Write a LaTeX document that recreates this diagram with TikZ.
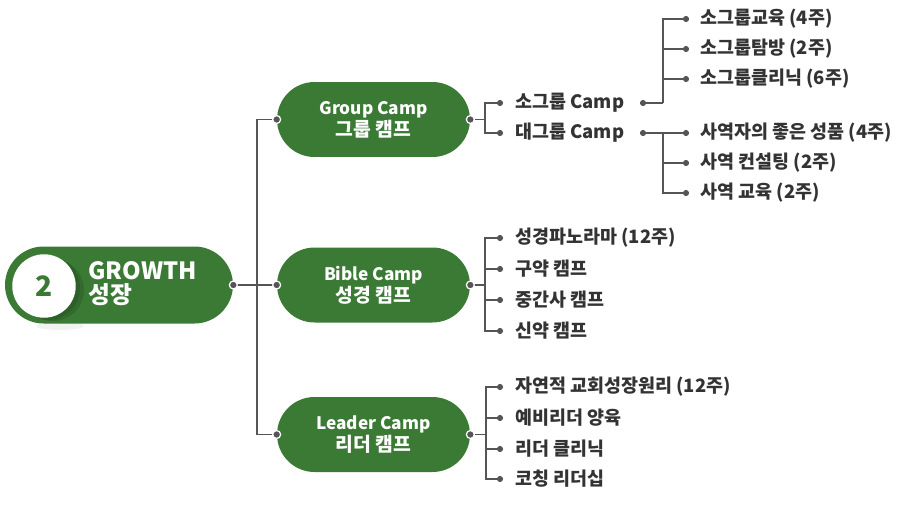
\documentclass[tikz,border=0pt]{standalone}
\usepackage{fontspec}
\setmainfont{Noto Sans CJK KR}
\usetikzlibrary{shapes.misc}

\definecolor{campgreen}{HTML}{3B7A35}
\definecolor{itemtext}{HTML}{333333}
\definecolor{linegray}{HTML}{555555}
\newcommand{\kline}[1]{{\fontsize{11}{12.5}\selectfont #1}}

\begin{document}
\begin{tikzpicture}[x=0.02cm,y=-0.02cm,
  pill/.style={rounded rectangle, fill=campgreen, text=white, align=center,
    font=\bfseries\fontsize{9.8}{12.5}\selectfont,
    minimum width=3.86cm, minimum height=1.5cm, inner sep=0pt},
  item/.style={anchor=west, text=itemtext, inner sep=0pt,
    font=\bfseries\fontsize{10.5}{12}\selectfont},
  dot/.style={circle, fill=linegray, inner sep=0pt, minimum size=3.5pt},
  enddot/.style={dot, draw=white, line width=0.7pt, minimum size=4.5pt},
  link/.style={draw=linegray, line width=0.6pt}]
  \useasboundingbox (0,0) rectangle (900,508);

  % main pill
  \fill[black, opacity=0.05] (60,326) ellipse (24 and 4);
  \node[pill, minimum width=4.56cm, minimum height=1.54cm] (N0) at (119,285) {};
  \fill[black, opacity=0.12] (53,290) circle (31);
  \fill[black, opacity=0.10] (48,288) circle (32);
  \node[circle, fill=white, minimum size=1.27cm, inner sep=0pt,
    text=campgreen, font=\bfseries\fontsize{16}{16}\selectfont] (N0c) at (44,286) {2};
  \node[anchor=west, text=white, align=left, inner sep=0pt,
    font=\bfseries\fontsize{13.5}{13.5}\selectfont] (N0t) at (88,284) {GROWTH\\성장};

  % camps
  \node[pill] (C1) at (373.5,119.5) {Group Camp\\\kline{그룹 캠프}};
  \node[pill] (C2) at (373.5,285) {Bible Camp\\\kline{성경 캠프}};
  \node[pill] (C3) at (373.5,434.5) {Leader Camp\\\kline{리더 캠프}};

  % trunk
  \coordinate (T0) at (257,285);
  \draw[link] (N0.east) -- (T0);
  \draw[link] (T0) |- (C1.west);
  \draw[link] (T0) -- (C2.west);
  \draw[link] (T0) |- (C3.west);

  % group camp
  \coordinate (J1) at (485,119.5);
  \node[dot] (A1) at (500,103) {};
  \node[dot] (A2) at (500,133) {};
  \node[item] (A1t) at (515,103) {소그룹 Camp};
  \node[item] (A2t) at (515,133) {대그룹 Camp};
  \draw[link] (C1.east) -- (J1);
  \draw[link] (J1) |- (A1);
  \draw[link] (J1) |- (A2);

  \node[dot] (E1) at (643,103) {};
  \node[dot] (E2) at (643,133) {};
  \coordinate (J2) at (663,103);
  \coordinate (J3) at (663,133);
  \node[dot] (B1) at (686,19) {};
  \node[dot] (B2) at (686,49) {};
  \node[dot] (B3) at (686,79) {};
  \node[item] (B1t) at (700,19) {소그룹교육 (4주)};
  \node[item] (B2t) at (700,49) {소그룹탐방 (2주)};
  \node[item] (B3t) at (700,79) {소그룹클리닉 (6주)};
  \draw[link] (E1) -- (J2);
  \draw[link] (J2) |- (B1);
  \draw[link] (J2) |- (B2);
  \draw[link] (J2) |- (B3);

  \node[dot] (D1) at (686,133) {};
  \node[dot] (D2) at (686,163) {};
  \node[dot] (D3) at (686,193) {};
  \node[item] (D1t) at (700,133) {사역자의 좋은 성품 (4주)};
  \node[item] (D2t) at (700,163) {사역 컨설팅 (2주)};
  \node[item] (D3t) at (700,193) {사역 교육 (2주)};
  \draw[link] (E2) -- (D1);
  \draw[link] (J3) |- (D2);
  \draw[link] (J3) |- (D3);

  % bible camp
  \coordinate (J4) at (485,285);
  \node[dot] (F1) at (500,238) {};
  \node[dot] (F2) at (500,269) {};
  \node[dot] (F3) at (500,300) {};
  \node[dot] (F4) at (500,331) {};
  \node[item] (F1t) at (515,238) {성경파노라마 (12주)};
  \node[item] (F2t) at (515,269) {구약 캠프};
  \node[item] (F3t) at (515,300) {중간사 캠프};
  \node[item] (F4t) at (515,331) {신약 캠프};
  \draw[link] (C2.east) -- (J4);
  \draw[link] (J4) |- (F1);
  \draw[link] (J4) |- (F2);
  \draw[link] (J4) |- (F3);
  \draw[link] (J4) |- (F4);

  % leader camp
  \coordinate (J5) at (486,434.5);
  \node[dot] (H1) at (500,387) {};
  \node[dot] (H2) at (500,418) {};
  \node[dot] (H3) at (500,449) {};
  \node[dot] (H4) at (500,479) {};
  \node[item] (H1t) at (515,387) {자연적 교회성장원리 (12주)};
  \node[item] (H2t) at (515,418) {예비리더 양육};
  \node[item] (H3t) at (515,449) {리더 클리닉};
  \node[item] (H4t) at (515,479) {코칭 리더십};
  \draw[link] (C3.east) -- (J5);
  \draw[link] (J5) |- (H1);
  \draw[link] (J5) |- (H2);
  \draw[link] (J5) |- (H3);
  \draw[link] (J5) |- (H4);

  % end dots
  \node[enddot] at (N0.east) {};
  \node[enddot] at (C1.west) {};
  \node[enddot] at (C1.east) {};
  \node[enddot] at (C2.west) {};
  \node[enddot] at (C2.east) {};
  \node[enddot] at (C3.west) {};
  \node[enddot] at (C3.east) {};
\end{tikzpicture}
\end{document}
